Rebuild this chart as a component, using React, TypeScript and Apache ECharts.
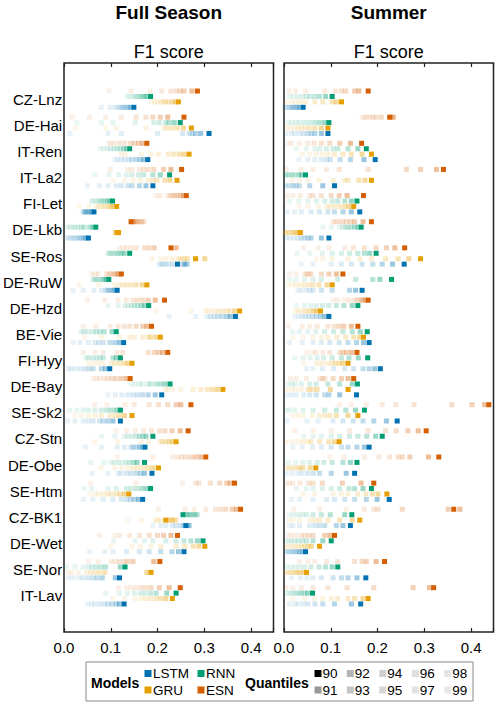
import React, { useEffect, useRef } from 'react';
import * as echarts from 'echarts';

const sites = ['CZ-Lnz','DE-Hai','IT-Ren','IT-La2','FI-Let','DE-Lkb','SE-Ros','DE-RuW','DE-Hzd','BE-Vie','FI-Hyy','DE-Bay','SE-Sk2','CZ-Stn','DE-Obe','SE-Htm','CZ-BK1','DE-Wet','SE-Nor','IT-Lav'];
const models = ['LSTM', 'GRU', 'RNN', 'ESN'];
const modelColors = ['#0072B2', '#E69F00', '#009E73', '#D55E00'];
const quantiles = [90, 91, 92, 93, 94, 95, 96, 97, 98, 99];
const quantileOpacity = [1, 0.4, 0.29, 0.23, 0.19, 0.16, 0.13, 0.115, 0.1, 0.09];
const xTicks = [0, 0.1, 0.2, 0.3, 0.4];
const panelTitles = ['Full Season', 'Summer'];
const axisTitle = 'F1 score';

// values per site, quantiles 90..99
const fullESN = [
[0.284,0.272,0.255,0.247,0.238,0.227,0.207,0.182,0.141,0.093],
[0.255,0.220,0.204,0.188,0.173,0.152,0.120,0.086,0.051,0.014],
[0.175,0.166,0.157,0.148,0.140,0.127,0.116,0.106,0.098,0.093],
[0.250,0.227,0.211,0.190,0.178,0.168,0.159,0.143,0.134,0.096],
[0.260,0.254,0.248,0.241,0.235,0.230,0.225,0.220,0.204,0.195],
[0.141,0.145,0.148,0.152,0.155,0.159,0.163,0.165,0.168,0.170],
[0.227,0.238,0.191,0.180,0.170,0.152,0.141,0.131,0.124,0.116],
[0.120,0.114,0.109,0.104,0.098,0.093,0.088,0.070,0.063,0.056],
[0.213,0.193,0.178,0.166,0.155,0.145,0.131,0.113,0.084,0.047],
[0.185,0.175,0.166,0.152,0.138,0.126,0.113,0.096,0.065,0.038],
[0.220,0.209,0.200,0.191,0.178,0.123,0.111,0.081,0.063,0.038],
[0.139,0.131,0.120,0.109,0.100,0.091,0.083,0.073,0.066,0.059],
[0.270,0.248,0.238,0.220,0.200,0.180,0.148,0.128,0.089,0.063],
[0.264,0.247,0.229,0.214,0.202,0.185,0.168,0.150,0.131,0.108],
[0.302,0.291,0.280,0.270,0.259,0.250,0.241,0.230,0.188,0.111],
[0.364,0.355,0.347,0.332,0.312,0.287,0.280,0.252,0.152,0.054],
[0.377,0.368,0.359,0.345,0.334,0.323,0.302,0.277,0.257,0.200],
[0.241,0.227,0.211,0.198,0.180,0.159,0.138,0.116,0.106,0.073],
[0.203,0.190,0.145,0.134,0.126,0.116,0.107,0.098,0.070,0.049],
[0.247,0.223,0.202,0.184,0.173,0.163,0.152,0.141,0.131,0.114]];
const fullRNN = [
[0.183,0.175,0.170,0.165,0.160,0.155,0.150,0.145,0.138,0.132],
[0.247,0.234,0.223,0.216,0.202,0.190,0.150,0.102,0.077,0.024],
[0.138,0.131,0.125,0.118,0.111,0.104,0.097,0.090,0.082,0.075],
[0.224,0.204,0.188,0.168,0.157,0.143,0.131,0.114,0.093,0.063],
[0.101,0.095,0.090,0.084,0.079,0.075,0.070,0.065,0.059,0.056],
[0.065,0.059,0.052,0.040,0.034,0.027,0.020,0.015,0.009,0.004],
[0.138,0.126,0.120,0.114,0.109,0.104,0.099,0.096,0.093,0.091],
[0.093,0.088,0.084,0.081,0.076,0.071,0.066,0.063,0.061,0.059],
[0.179,0.170,0.163,0.155,0.148,0.141,0.134,0.127,0.113,0.091],
[0.109,0.100,0.083,0.074,0.066,0.059,0.049,0.041,0.038,0.033],
[0.118,0.109,0.102,0.081,0.074,0.066,0.059,0.052,0.047,0.043],
[0.225,0.214,0.204,0.195,0.184,0.178,0.166,0.159,0.150,0.141],
[0.118,0.109,0.098,0.088,0.077,0.063,0.049,0.038,0.024,0.009],
[0.188,0.173,0.166,0.159,0.152,0.143,0.134,0.127,0.106,0.077],
[0.170,0.154,0.147,0.138,0.128,0.116,0.106,0.098,0.083,0.054],
[0.183,0.173,0.163,0.152,0.141,0.131,0.109,0.091,0.056,0.040],
[0.253,0.261,0.266,0.271,0.275,0.278,0.280,0.282,0.284,0.285],
[0.296,0.284,0.270,0.255,0.238,0.216,0.188,0.170,0.150,0.103],
[0.128,0.118,0.086,0.076,0.066,0.057,0.049,0.038,0.020,0.002],
[0.238,0.218,0.195,0.183,0.171,0.161,0.148,0.133,0.116,0.086]];
const fullGRU = [
[0.243,0.236,0.230,0.221,0.215,0.210,0.205,0.198,0.191,0.185],
[0.271,0.254,0.241,0.230,0.220,0.212,0.173,0.109,0.086,0.021],
[0.266,0.255,0.245,0.233,0.221,0.200,0.183,0.163,0.128,0.120],
[0.240,0.225,0.214,0.197,0.188,0.178,0.161,0.145,0.127,0.102],
[0.110,0.102,0.097,0.091,0.084,0.078,0.071,0.066,0.050,0.029],
[0.114,0.112,0.111,0.110,0.110,0.109,0.108,0.108,0.107,0.106],
[0.280,0.300,0.262,0.255,0.248,0.242,0.229,0.216,0.205,0.186],
[0.175,0.165,0.152,0.141,0.131,0.123,0.116,0.106,0.071,0.029],
[0.375,0.364,0.352,0.341,0.330,0.320,0.309,0.302,0.270,0.195],
[0.204,0.195,0.184,0.178,0.166,0.148,0.138,0.116,0.077,0.041],
[0.143,0.134,0.126,0.116,0.106,0.098,0.081,0.070,0.059,0.049],
[0.339,0.327,0.316,0.305,0.291,0.275,0.248,0.230,0.220,0.215],
[0.143,0.127,0.116,0.106,0.095,0.077,0.063,0.049,0.034,0.020],
[0.238,0.230,0.223,0.216,0.209,0.204,0.178,0.163,0.113,0.063],
[0.200,0.188,0.177,0.166,0.155,0.145,0.134,0.120,0.106,0.076],
[0.136,0.127,0.118,0.109,0.098,0.090,0.081,0.071,0.063,0.052],
[0.216,0.225,0.230,0.235,0.237,0.205,0.198,0.193,0.163,0.134],
[0.300,0.287,0.275,0.257,0.238,0.205,0.184,0.161,0.143,0.097],
[0.184,0.175,0.084,0.073,0.063,0.054,0.045,0.027,0.013,0.006],
[0.230,0.216,0.205,0.195,0.184,0.173,0.163,0.150,0.127,0.102]];
const fullLSTM = [
[0.147,0.140,0.134,0.128,0.123,0.118,0.113,0.106,0.095,0.077],
[0.309,0.291,0.280,0.273,0.266,0.252,0.198,0.120,0.091,0.009],
[0.177,0.168,0.160,0.152,0.143,0.136,0.127,0.120,0.113,0.106],
[0.188,0.173,0.159,0.143,0.134,0.120,0.109,0.091,0.073,0.047],
[0.061,0.056,0.052,0.049,0.045,0.043,0.041,0.040,0.039,0.037],
[0.049,0.043,0.038,0.032,0.027,0.021,0.016,0.011,0.006,0.002],
[0.241,0.257,0.262,0.252,0.230,0.220,0.214,0.209,0.205,0.202],
[0.111,0.106,0.100,0.095,0.090,0.086,0.077,0.061,0.038,0.016],
[0.366,0.355,0.347,0.337,0.328,0.320,0.312,0.305,0.280,0.223],
[0.125,0.116,0.106,0.095,0.081,0.071,0.063,0.049,0.031,0.016],
[0.095,0.086,0.077,0.059,0.050,0.041,0.031,0.020,0.011,0.006],
[0.207,0.193,0.178,0.166,0.155,0.145,0.134,0.121,0.107,0.091],
[0.118,0.102,0.091,0.081,0.073,0.059,0.049,0.038,0.020,0.004],
[0.171,0.165,0.159,0.152,0.145,0.141,0.127,0.111,0.077,0.043],
[0.186,0.170,0.161,0.152,0.141,0.131,0.120,0.113,0.091,0.057],
[0.166,0.157,0.148,0.140,0.131,0.120,0.102,0.081,0.059,0.038],
[0.259,0.266,0.262,0.255,0.248,0.238,0.230,0.216,0.205,0.188],
[0.255,0.243,0.229,0.205,0.180,0.159,0.131,0.102,0.084,0.052],
[0.116,0.107,0.079,0.068,0.059,0.049,0.038,0.029,0.016,0.006],
[0.126,0.116,0.109,0.100,0.091,0.083,0.073,0.063,0.056,0.047]];

const sumESN = [
[0.180,0.160,0.151,0.132,0.123,0.110,0.087,0.046,0.025,0.011],
[0.226,0.234,0.230,0.208,0.197,0.190,0.183,0.177,0.172,0.167],
[0.166,0.142,0.119,0.098,0.080,0.064,0.051,0.033,0.016,0.009],
[0.341,0.326,0.292,0.262,0.180,0.118,0.091,0.062,0.037,0.005],
[0.170,0.135,0.118,0.101,0.080,0.062,0.055,0.035,0.019,0.006],
[0.187,0.169,0.151,0.142,0.133,0.126,0.119,0.113,0.108,0.105],
[0.258,0.237,0.219,0.197,0.172,0.148,0.130,0.096,0.073,0.042],
[0.126,0.112,0.096,0.080,0.058,0.053,0.048,0.044,0.026,0.012],
[0.180,0.175,0.169,0.165,0.158,0.151,0.140,0.130,0.115,0.105],
[0.158,0.144,0.128,0.118,0.108,0.094,0.071,0.055,0.039,0.009],
[0.156,0.144,0.133,0.126,0.119,0.098,0.083,0.069,0.062,0.049],
[0.149,0.137,0.123,0.105,0.087,0.082,0.076,0.048,0.026,0.014],
[0.438,0.429,0.402,0.359,0.278,0.239,0.210,0.176,0.144,0.119],
[0.304,0.287,0.265,0.240,0.217,0.180,0.140,0.101,0.062,0.023],
[0.331,0.309,0.269,0.253,0.244,0.226,0.203,0.172,0.128,0.098],
[0.192,0.165,0.125,0.082,0.062,0.053,0.034,0.019,0.012,0.005],
[0.363,0.376,0.351,0.253,0.201,0.192,0.172,0.133,0.076,0.021],
[0.108,0.098,0.087,0.062,0.053,0.044,0.037,0.026,0.016,0.009],
[0.215,0.197,0.176,0.167,0.151,0.115,0.091,0.066,0.051,0.033],
[0.320,0.311,0.276,0.192,0.135,0.094,0.062,0.037,0.019,0.004]];
const sumRNN = [
[0.103,0.089,0.076,0.066,0.056,0.048,0.039,0.030,0.021,0.012],
[0.096,0.087,0.076,0.066,0.055,0.044,0.033,0.025,0.016,0.009],
[0.176,0.158,0.137,0.115,0.105,0.091,0.076,0.066,0.048,0.026],
[0.046,0.037,0.032,0.023,0.018,0.012,0.009,0.005,0.003,0.001],
[0.156,0.144,0.130,0.115,0.103,0.087,0.069,0.051,0.032,0.012],
[0.165,0.158,0.151,0.144,0.137,0.132,0.126,0.119,0.101,0.083],
[0.197,0.183,0.172,0.158,0.140,0.123,0.103,0.082,0.055,0.028],
[0.230,0.205,0.190,0.153,0.115,0.080,0.062,0.044,0.025,0.012],
[0.158,0.146,0.128,0.112,0.096,0.082,0.069,0.058,0.044,0.026],
[0.178,0.163,0.146,0.126,0.106,0.087,0.068,0.051,0.033,0.018],
[0.179,0.159,0.139,0.123,0.103,0.085,0.071,0.056,0.041,0.023],
[0.157,0.146,0.119,0.094,0.069,0.055,0.037,0.023,0.016,0.009],
[0.172,0.153,0.132,0.112,0.087,0.062,0.041,0.023,0.012,0.005],
[0.210,0.196,0.177,0.158,0.140,0.119,0.101,0.080,0.062,0.042],
[0.156,0.142,0.126,0.103,0.085,0.071,0.055,0.041,0.025,0.009],
[0.187,0.169,0.151,0.139,0.119,0.101,0.082,0.062,0.048,0.026],
[0.145,0.130,0.099,0.080,0.062,0.048,0.039,0.030,0.021,0.012],
[0.101,0.083,0.062,0.048,0.039,0.030,0.023,0.016,0.011,0.005],
[0.115,0.103,0.089,0.075,0.058,0.044,0.033,0.023,0.014,0.005],
[0.061,0.051,0.044,0.037,0.032,0.026,0.021,0.016,0.011,0.006]];
const sumGRU = [
[0.123,0.112,0.103,0.083,0.066,0.046,0.035,0.025,0.016,0.005],
[0.094,0.080,0.066,0.055,0.046,0.037,0.030,0.023,0.014,0.005],
[0.187,0.167,0.144,0.126,0.108,0.094,0.082,0.069,0.055,0.039],
[0.187,0.173,0.160,0.137,0.130,0.105,0.075,0.051,0.033,0.018],
[0.149,0.139,0.130,0.119,0.108,0.098,0.091,0.073,0.051,0.032],
[0.035,0.030,0.025,0.021,0.016,0.012,0.009,0.005,0.003,0.001],
[0.292,0.267,0.244,0.217,0.187,0.162,0.137,0.103,0.083,0.069],
[0.103,0.092,0.075,0.062,0.053,0.044,0.035,0.026,0.018,0.009],
[0.078,0.071,0.066,0.061,0.055,0.049,0.044,0.037,0.030,0.025],
[0.170,0.162,0.149,0.132,0.113,0.094,0.080,0.062,0.041,0.019],
[0.137,0.126,0.118,0.110,0.103,0.094,0.083,0.075,0.069,0.042],
[0.137,0.099,0.071,0.062,0.055,0.051,0.037,0.025,0.016,0.005],
[0.158,0.137,0.112,0.098,0.087,0.076,0.061,0.041,0.030,0.019],
[0.118,0.108,0.096,0.076,0.058,0.051,0.041,0.030,0.018,0.005],
[0.068,0.056,0.041,0.035,0.030,0.023,0.018,0.012,0.009,0.005],
[0.220,0.201,0.189,0.175,0.158,0.137,0.123,0.105,0.066,0.041],
[0.162,0.146,0.119,0.094,0.076,0.066,0.056,0.033,0.019,0.011],
[0.076,0.058,0.051,0.044,0.037,0.030,0.023,0.018,0.011,0.005],
[0.048,0.041,0.033,0.028,0.023,0.018,0.014,0.010,0.006,0.004],
[0.180,0.169,0.151,0.137,0.115,0.101,0.083,0.066,0.044,0.019]];
const sumLSTM = [
[0.041,0.033,0.028,0.023,0.019,0.016,0.012,0.009,0.005,0.001],
[0.094,0.080,0.066,0.058,0.051,0.042,0.033,0.023,0.016,0.004],
[0.195,0.171,0.142,0.120,0.099,0.091,0.080,0.066,0.051,0.032],
[0.108,0.083,0.055,0.033,0.026,0.021,0.016,0.011,0.006,0.003],
[0.162,0.144,0.126,0.108,0.094,0.076,0.058,0.037,0.023,0.006],
[0.096,0.080,0.058,0.051,0.044,0.037,0.030,0.021,0.012,0.005],
[0.257,0.232,0.210,0.190,0.167,0.144,0.123,0.101,0.062,0.037],
[0.167,0.153,0.140,0.103,0.080,0.062,0.055,0.048,0.037,0.030],
[0.096,0.087,0.078,0.069,0.061,0.053,0.046,0.039,0.032,0.023],
[0.182,0.170,0.155,0.137,0.118,0.098,0.080,0.062,0.039,0.012],
[0.206,0.194,0.182,0.169,0.149,0.130,0.106,0.082,0.062,0.048],
[0.155,0.119,0.096,0.087,0.069,0.055,0.042,0.026,0.016,0.006],
[0.242,0.219,0.192,0.169,0.148,0.126,0.105,0.073,0.049,0.006],
[0.182,0.172,0.156,0.137,0.123,0.101,0.080,0.061,0.039,0.019],
[0.151,0.133,0.101,0.076,0.063,0.051,0.039,0.030,0.018,0.005],
[0.225,0.199,0.176,0.151,0.130,0.108,0.091,0.062,0.033,0.016],
[0.142,0.126,0.112,0.087,0.076,0.066,0.055,0.033,0.019,0.011],
[0.046,0.039,0.033,0.028,0.023,0.018,0.014,0.010,0.006,0.004],
[0.175,0.156,0.137,0.123,0.105,0.080,0.062,0.049,0.035,0.016],
[0.164,0.144,0.108,0.083,0.066,0.051,0.041,0.030,0.023,0.012]];

const panels = [
  [fullLSTM, fullGRU, fullRNN, fullESN],
  [sumLSTM, sumGRU, sumRNN, sumESN],
];

// layout / style
const FONT = 'Liberation Sans, Arial, Helvetica, sans-serif';
const ROW_OFFSET = [8.15, 2.72, -2.72, -8.15]; // px, LSTM bottom ... ESN top
const PANEL_LEFT = [64, 284];
const PANEL_W = 209.5;
const FRAME_TOP = 63;
const FRAME_H = 569;
const DATA_TOP = 86.1;
const DATA_H = 522.8;
const XMAX = 0.448;

export default function App() {
  const ref = useRef<HTMLDivElement>(null);
  useEffect(() => {
    if (!ref.current) return;
    const chart = echarts.init(ref.current, null, { renderer: 'svg' });

    const grids: any[] = [];
    const xAxes: any[] = [];
    const yAxes: any[] = [];
    const series: any[] = [];
    const graphics: any[] = [];

    panels.forEach((pdata, p) => {
      const left = PANEL_LEFT[p];
      grids.push({ left, top: FRAME_TOP, width: PANEL_W, height: FRAME_H, show: true, borderColor: '#222', borderWidth: 1.5, backgroundColor: '#fff' });
      grids.push({ left, top: DATA_TOP, width: PANEL_W, height: DATA_H, show: false });
      const fg = p * 2;
      const dg = p * 2 + 1;
      const base = { type: 'value', min: 0, max: XMAX, interval: 0.1, splitLine: { show: false }, axisLine: { show: false } };
      const tick = { show: true, inside: true, length: 4, lineStyle: { color: '#222', width: 1.2 } };
      xAxes.push({
        ...base, gridIndex: fg, position: 'bottom', axisTick: tick,
        axisLabel: { show: true, fontSize: 15, color: '#000', fontFamily: FONT, margin: 8,
          formatter: (v: number) => (xTicks.some((t) => Math.abs(t - v) < 1e-6) ? v.toFixed(1) : '') },
      });
      xAxes.push({ ...base, gridIndex: fg, position: 'top', axisTick: tick, axisLabel: { show: false } });
      xAxes.push({ ...base, gridIndex: dg, show: false });
      yAxes.push({ type: 'value', gridIndex: fg, show: false, min: 0, max: 1 });
      yAxes.push({
        type: 'category', gridIndex: dg, data: sites, inverse: true, boundaryGap: true,
        axisLine: { show: false }, axisTick: { show: false }, splitLine: { show: false },
        axisLabel: { show: p === 0, fontSize: 15, color: '#000', fontFamily: FONT, margin: 3.5 },
      });
      const xIdx = p * 3 + 2;
      const yIdx = dg;
      models.forEach((m, mi) => {
        const data: any[] = [];
        sites.forEach((s, si) => {
          for (let qi = quantiles.length - 1; qi >= 0; qi--) {
            data.push({ value: [pdata[mi][si][qi], si], itemStyle: { opacity: quantileOpacity[qi] } });
          }
        });
        series.push({
          type: 'scatter', name: m, xAxisIndex: xIdx, yAxisIndex: yIdx, symbol: 'rect', symbolSize: 5,
          symbolOffset: [0, ROW_OFFSET[mi]], itemStyle: { color: modelColors[mi] }, data, silent: true,
        });
      });
      const cx = left + PANEL_W / 2;
      graphics.push({ type: 'text', x: cx, y: 12.5, style: { text: panelTitles[p], font: `bold 19px ${FONT}`, fill: '#000', textAlign: 'center', textVerticalAlign: 'middle' } });
      graphics.push({ type: 'text', x: cx, y: 52, style: { text: axisTitle, font: `18px ${FONT}`, fill: '#000', textAlign: 'center', textVerticalAlign: 'middle' } });
    });

    // legend
    const L: any[] = [];
    L.push({ type: 'rect', shape: { x: 86, y: 662, width: 387, height: 39 }, style: { fill: '#fff', stroke: '#888', lineWidth: 1 } });
    L.push({ type: 'text', x: 91, y: 682.5, style: { text: 'Models', font: `bold 14px ${FONT}`, fill: '#000', textVerticalAlign: 'middle' } });
    const modelPos = [[148, 673.5], [148, 690], [201, 673.5], [201, 690]];
    models.forEach((m, mi) => {
      const [x, y] = modelPos[mi];
      L.push({ type: 'rect', shape: { x: x - 3.5, y: y - 3.5, width: 7, height: 7 }, style: { fill: modelColors[mi] } });
      L.push({ type: 'text', x: x + 5, y, style: { text: m, font: `13.5px ${FONT}`, fill: '#000', textVerticalAlign: 'middle' } });
    });
    L.push({ type: 'text', x: 245, y: 682.5, style: { text: 'Quantiles', font: `bold 14px ${FONT}`, fill: '#000', textVerticalAlign: 'middle' } });
    const qCols = [318, 350.3, 382.8, 415.3, 447.8];
    quantiles.forEach((q, qi) => {
      const x = qCols[Math.floor(qi / 2)];
      const y = qi % 2 === 0 ? 673.5 : 690;
      L.push({ type: 'rect', shape: { x: x - 3.5, y: y - 3.5, width: 7, height: 7 }, style: { fill: '#000', opacity: quantileOpacity[qi] } });
      L.push({ type: 'text', x: x + 4.5, y, style: { text: String(q), font: `13.5px ${FONT}`, fill: '#000', textVerticalAlign: 'middle' } });
    });
    graphics.push(...L);

    chart.setOption({
      animation: false,
      backgroundColor: '#fff',
      textStyle: { fontFamily: FONT },
      grid: grids,
      xAxis: xAxes,
      yAxis: yAxes,
      series,
      graphic: graphics,
    });
    return () => chart.dispose();
  }, []);
  return <div ref={ref} style={{ position: 'absolute', left: 0, top: 0, width: 500, height: 706 }} />;
}
